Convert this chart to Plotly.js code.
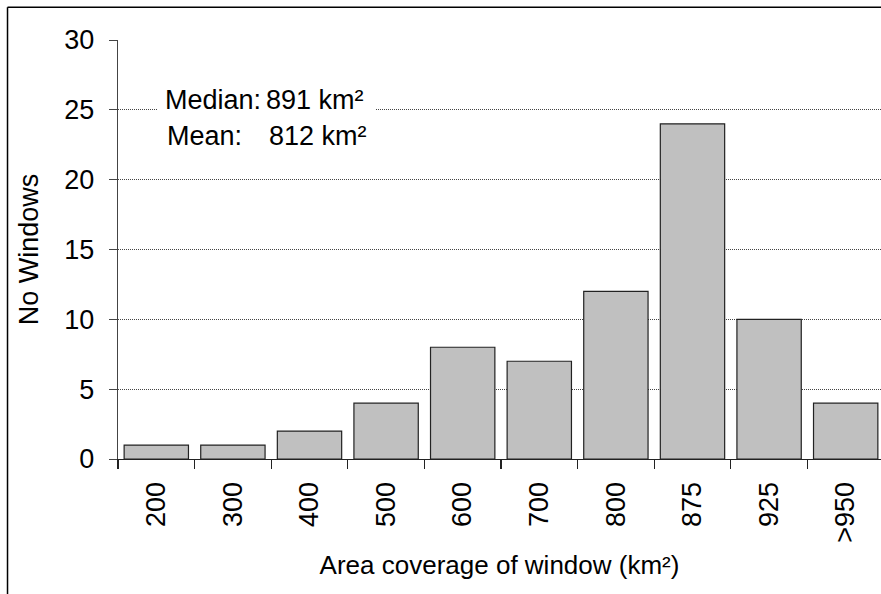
<!DOCTYPE html>
<html>
<head>
<meta charset="utf-8">
<script src="https://cdn.plot.ly/plotly-3.0.1.min.js"></script>
<style>html,body{margin:0;padding:0;background:#fff;}#chart{width:881px;height:594px;}</style>
</head>
<body>
<div id="chart"></div>
<script>
var categories = ["200", "300", "400", "500", "600", "700", "800", "875", "925", ">950"];
var windowCounts = [1, 1, 2, 4, 8, 7, 12, 24, 10, 4];
var yTickValues = [0, 5, 10, 15, 20, 25, 30];
var statLabels = ["Median:", "Mean:"];
var statValues = ["891 km²", "812 km²"];

var FONT = "Liberation Sans, Arial, Helvetica, sans-serif";

var trace = {
  type: "bar",
  x: categories,
  y: windowCounts,
  marker: {color: "#c0c0c0", line: {color: "#222", width: 1.2}},
  hoverinfo: "x+y"
};

var layout = {
  width: 881, height: 594,
  margin: {l: 118, r: 0, t: 40, b: 135, pad: 0},
  paper_bgcolor: "#fff", plot_bgcolor: "#fff",
  showlegend: false,
  bargap: 0.16,
  font: {family: FONT, size: 27, color: "#000"},
  xaxis: {
    type: "category",
    range: [-0.5, 9.461],
    tickson: "boundaries",
    ticks: "outside", ticklen: 9, tickwidth: 1.2, tickcolor: "#222",
    tickangle: -90,
    ticklabelstandoff: 11,
    showline: true, linecolor: "#222", linewidth: 1.2,
    showgrid: false,
    tickfont: {family: FONT, size: 27, color: "#000"},
    title: {text: "Area coverage of window (km²)", font: {family: FONT, size: 26, color: "#000"}, standoff: 14}
  },
  yaxis: {
    range: [0, 30],
    tickvals: yTickValues,
    ticks: "outside", ticklen: 8, tickwidth: 1, tickcolor: "#444",
    ticklabelstandoff: 9,
    showline: true, linecolor: "#444", linewidth: 1.2,
    showgrid: true, gridcolor: "#444", gridwidth: 1, griddash: "1px,1px",
    zeroline: false,
    tickfont: {family: FONT, size: 27, color: "#000"},
    title: {text: "No Windows", font: {family: FONT, size: 27, color: "#000"}, standoff: 18}
  },
  shapes: [
    {type: "rect", xref: "x", yref: "y", x0: 0.022, x1: 2.855, y0: 22.1, y1: 26.6,
     fillcolor: "#fff", line: {width: 0}, layer: "above"},
    {type: "line", xref: "paper", yref: "paper", x0: -0.1448, x1: 1.2, y0: 1.078, y1: 1.078,
     line: {color: "#000", width: 1.5}},
    {type: "line", xref: "paper", yref: "paper", x0: -0.1448, x1: -0.1448, y0: 1.078, y1: -0.5,
     line: {color: "#000", width: 1.5}}
  ],
  annotations: [
    {xref: "x", yref: "y", x: 0.0875, y: 25.7, xanchor: "left", yanchor: "middle", showarrow: false,
     text: statLabels[0], font: {family: FONT, size: 27, color: "#000"}},
    {xref: "x", yref: "y", x: 1.41, y: 25.7, xanchor: "left", yanchor: "middle", showarrow: false,
     text: statValues[0], font: {family: FONT, size: 27, color: "#000"}},
    {xref: "x", yref: "y", x: 0.1136, y: 23.1, xanchor: "left", yanchor: "middle", showarrow: false,
     text: statLabels[1], font: {family: FONT, size: 27, color: "#000"}},
    {xref: "x", yref: "y", x: 1.45, y: 23.1, xanchor: "left", yanchor: "middle", showarrow: false,
     text: statValues[1], font: {family: FONT, size: 27, color: "#000"}}
  ]
};

Plotly.newPlot("chart", [trace], layout, {staticPlot: true, displayModeBar: false});
</script>
</body>
</html>
